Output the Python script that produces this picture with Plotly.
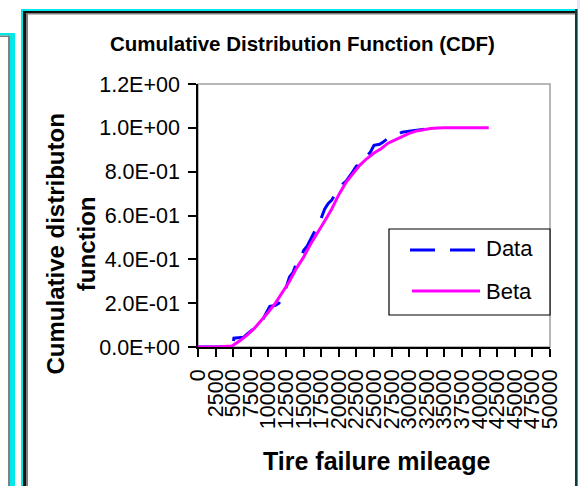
import plotly.graph_objects as go

# Fitted Beta CDF (mileage, cumulative probability)
beta_mileage = [0, 2500, 4800, 5000, 6000, 7000, 8000, 9000, 10000, 11000, 12000,
                13000, 14000, 15000, 16000, 17000, 18000, 19000, 20000, 21000,
                22000, 23000, 24000, 25000, 26000, 27000, 28000, 29000, 30000,
                31000, 32000, 33000, 34000, 35000, 41300]
beta_cdf = [0.0, 0.0, 0.005, 0.008, 0.03, 0.055, 0.085, 0.12, 0.16, 0.2, 0.25,
            0.3, 0.36, 0.41, 0.47, 0.52, 0.575, 0.63, 0.695, 0.75,
            0.79, 0.83, 0.86, 0.885, 0.905, 0.93, 0.945, 0.96, 0.975,
            0.985, 0.992, 0.997, 0.999, 1.0, 1.0]

# Empirical CDF of the observed tire failure mileages
data_mileage = [0, 3500, 3600, 5000, 5100, 6500, 7000, 8000, 8500, 9300, 9600,
                10200, 11000, 11500, 12100, 12500, 13000, 13500, 14000, 14600,
                15000, 15500, 16000, 16400, 17000, 17400, 18000, 18500, 19000,
                19500, 20000, 20600, 21000, 21600, 22000, 22500, 23000, 23500,
                24000, 24500, 25000, 25800, 26300, 27000, 27300, 28000, 29000,
                30000, 30600, 31500, 32500, 33400, 34000]
data_cdf = [0.0, 0.0, 0.017, 0.02, 0.04, 0.045, 0.06, 0.085, 0.11, 0.13, 0.15,
            0.185, 0.19, 0.2, 0.23, 0.27, 0.32, 0.34, 0.385, 0.4,
            0.44, 0.46, 0.49, 0.52, 0.55, 0.58, 0.63, 0.655, 0.67,
            0.7, 0.72, 0.745, 0.755, 0.78, 0.8, 0.825, 0.835, 0.855,
            0.875, 0.89, 0.92, 0.925, 0.935, 0.95, 0.96, 0.965, 0.98,
            0.985, 0.987, 0.993, 0.995, 1.0, 1.0]

x_tick_values = list(range(0, 50001, 2500))
x_tick_labels = [str(v) for v in x_tick_values]
y_tick_values = [0.0, 0.2, 0.4, 0.6, 0.8, 1.0, 1.2]
y_tick_labels = ["0.0E+00", "2.0E-01", "4.0E-01", "6.0E-01", "8.0E-01",
                 "1.0E+00", "1.2E+00"]

series_names = ["Data", "Beta"]
series_colors = ["#0000FF", "#FF00FF"]

W, H = 580, 486
L, R, T, B = 198, 550, 84, 347  # plot area edges in pixels

FONT = "Liberation Sans, Arial, sans-serif"


def px(x):
    return (x - L) / (R - L)


def py(y):
    return (B - y) / (B - T)


def rect(x0, y0, x1, y1, color, layer="above"):
    return dict(type="rect", xref="paper", yref="paper",
                x0=px(x0), x1=px(x1), y0=py(y1), y1=py(y0),
                fillcolor=color, line=dict(width=0), layer=layer)


def hline(x0, x1, y, color, width, dash="solid"):
    return dict(type="line", xref="paper", yref="paper",
                x0=px(x0), x1=px(x1), y0=py(y), y1=py(y),
                line=dict(color=color, width=width, dash=dash))


fig = go.Figure()
fig.add_trace(go.Scatter(x=data_mileage, y=data_cdf, mode="lines",
                         name=series_names[0],
                         line=dict(color=series_colors[0], width=3,
                                   dash="25px,15px")))
fig.add_trace(go.Scatter(x=beta_mileage, y=beta_cdf, mode="lines",
                         name=series_names[1],
                         line=dict(color=series_colors[1], width=3)))

shapes = [
    # plot frame (top/right in grey; axes drawn black on top)
    dict(type="rect", xref="paper", yref="paper", x0=0, x1=1, y0=0, y1=1,
         line=dict(color="#a0a0a0", width=1.5), layer="below"),
    # left neighbour panel edge
    rect(0, 33, 15, 35.5, "#00e8e8"),
    rect(0, 35.5, 9, 37, "#808080"),
    rect(8, 35.5, 10, 486, "#808080"),
    rect(10, 33, 15, 486, "#00e8e8"),
    # chart panel frame
    rect(21, 9, 578, 11, "#00e8e8"),
    rect(21, 9, 23, 486, "#00e8e8"),
    rect(23, 11, 577, 13, "#101010"),
    rect(23, 11, 26, 486, "#101010"),
    rect(26, 13, 575, 14.5, "#808080"),
    rect(26, 13, 28, 486, "#808080"),
    rect(575, 9, 577, 486, "#0b3b3b"),
    rect(577, 9, 578, 486, "#00b0b0"),
    rect(577, 0, 580, 9, "#e4e4ff"),
    # legend box
    dict(type="rect", xref="paper", yref="paper",
         x0=px(389), x1=px(550), y0=py(315), y1=py(229),
         fillcolor="white", line=dict(color="black", width=1.2)),
    hline(410, 480, 250, series_colors[0], 3, "25px,15px"),
    hline(412, 480, 291, series_colors[1], 3),
]

annotations = [
    dict(text="<b>Cumulative Distribution Function (CDF)</b>",
         xref="paper", yref="paper", x=px(302), y=py(43.5),
         xanchor="center", yanchor="middle", showarrow=False,
         font=dict(family=FONT, size=20.5, color="black")),
    dict(text="<b>Tire failure mileage</b>",
         xref="paper", yref="paper", x=px(377), y=py(461),
         xanchor="center", yanchor="middle", showarrow=False,
         font=dict(family=FONT, size=25, color="black")),
    dict(text="<b>Cumulative distributon<br>function</b>",
         xref="paper", yref="paper", x=px(70.5), y=py(244),
         xanchor="center", yanchor="middle", showarrow=False, textangle=-90,
         font=dict(family=FONT, size=24, color="black")),
    dict(text=series_names[0], xref="paper", yref="paper",
         x=px(484), y=py(249), xanchor="left", yanchor="middle",
         showarrow=False, font=dict(family=FONT, size=22, color="black")),
    dict(text=series_names[1], xref="paper", yref="paper",
         x=px(484), y=py(291), xanchor="left", yanchor="middle",
         showarrow=False, font=dict(family=FONT, size=22, color="black")),
]

fig.update_layout(
    width=W, height=H,
    margin=dict(l=L, r=W - R, t=T, b=H - B, pad=0),
    paper_bgcolor="white", plot_bgcolor="white",
    showlegend=False,
    shapes=shapes, annotations=annotations,
    xaxis=dict(range=[0, 50000], tickmode="array", tickvals=x_tick_values,
               ticktext=x_tick_labels, tickangle=-90, ticks="outside",
               ticklen=8, tickwidth=1.5, tickcolor="black",
               showline=True, linecolor="black", linewidth=1.5,
               showgrid=False, zeroline=False, automargin=False,
               ticklabelstandoff=4,
               tickfont=dict(family=FONT, size=21.5, color="black")),
    yaxis=dict(range=[0, 1.2], tickmode="array", tickvals=y_tick_values,
               ticktext=y_tick_labels, ticks="outside", ticklen=8,
               tickwidth=1.5, tickcolor="black",
               showline=True, linecolor="black", linewidth=1.5,
               showgrid=False, zeroline=False, automargin=False,
               ticklabelstandoff=4,
               tickfont=dict(family=FONT, size=21.5, color="black")),
)

fig.write_html("out.html")
